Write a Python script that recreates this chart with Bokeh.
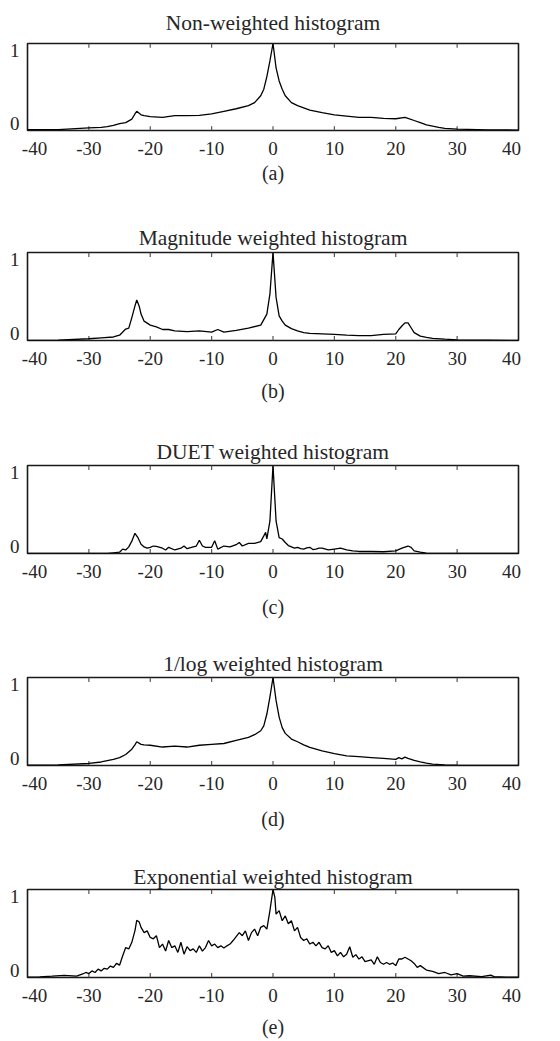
from bokeh.plotting import figure
from bokeh.layouts import column
from bokeh.models import LinearAxis, FixedTicker, Range1d
from bokeh.embed import file_html
from bokeh.resources import INLINE

# ---------------- data ----------------
titles = ["Non-weighted histogram", "Magnitude weighted histogram",
          "DUET weighted histogram", "1/log weighted histogram",
          "Exponential weighted histogram"]
captions = ["(a)", "(b)", "(c)", "(d)", "(e)"]

x_tick_values = [-30, -20, -10, 0, 10, 20, 30]
x_tick_labels = ["-40", "-30", "-20", "-10", "0", "10", "20", "30", "40"]
x_label_pos = [-38.86, -30, -20, -10, 0, 10, 20, 30, 38.86]
y_tick_labels = ["0", "1"]
y_label_pos = [0.085, 0.915]

xa = [-40, -35, -30, -28, -27, -26, -25, -24, -23, -22.5,
      -22.2, -21.5, -21, -20, -18, -16, -14, -12, -10, -8,
      -6, -4, -3, -2, -1.5, -1, -0.5, 0, 0.5, 1,
      1.5, 2, 3, 4, 5, 6, 8, 10, 12, 14,
      16, 18, 20, 21.5, 22, 23, 24, 25, 26, 27,
      28, 30, 35, 40]
ya = [0.01, 0.01, 0.03, 0.035, 0.045, 0.06, 0.08, 0.09, 0.13, 0.19,
      0.22, 0.18, 0.17, 0.16, 0.15, 0.17, 0.17, 0.175, 0.19, 0.22,
      0.25, 0.285, 0.32, 0.40, 0.475, 0.62, 0.80, 1.0, 0.72, 0.57,
      0.475, 0.40, 0.32, 0.285, 0.26, 0.235, 0.205, 0.18, 0.165, 0.15,
      0.15, 0.14, 0.135, 0.15, 0.14, 0.115, 0.09, 0.065, 0.05, 0.035,
      0.025, 0.015, 0.008, 0.005]

xb = [-40, -35, -30, -28, -26, -25, -24, -23.5, -23, -22.5,
      -22.2, -21.8, -21.5, -21, -20, -19, -18, -17, -16, -14,
      -12, -10, -9, -8, -6, -4, -2, -1, -0.5, 0,
      0.5, 1, 1.5, 2, 3, 4, 5, 6, 8, 10,
      12, 14, 16, 18, 20, 20.5, 21, 21.5, 22, 22.5,
      23, 24, 25, 26, 28, 30, 35, 40]
yb = [0, 0.005, 0.02, 0.03, 0.04, 0.06, 0.13, 0.14, 0.26, 0.39,
      0.46, 0.39, 0.30, 0.22, 0.175, 0.155, 0.125, 0.125, 0.11, 0.10,
      0.11, 0.095, 0.125, 0.095, 0.115, 0.14, 0.175, 0.30, 0.53, 1.0,
      0.49, 0.28, 0.22, 0.175, 0.135, 0.11, 0.09, 0.08, 0.075, 0.07,
      0.06, 0.055, 0.055, 0.07, 0.075, 0.125, 0.165, 0.20, 0.20, 0.145,
      0.09, 0.05, 0.035, 0.025, 0.015, 0.008, 0.004, 0]

xc = [-40, -27, -26, -25, -24.5, -24, -23.5, -23, -22.5, -22,
      -21.5, -21, -20.5, -20, -19.5, -19, -18, -17.5, -17, -16,
      -15, -14.5, -14, -13, -12.5, -12, -11.5, -11, -10, -9.5,
      -9, -8, -7, -6, -5.5, -5, -4, -3, -2, -1.5,
      -1.2, -1, -0.5, 0, 0.5, 1, 1.5, 2, 2.5, 3,
      3.5, 4, 4.5, 5, 5.5, 6, 6.5, 7, 7.5, 8,
      9, 10, 11, 12, 13, 14, 16, 18, 20, 21,
      22, 22.5, 23, 24, 25, 40]
yc = [0, 0, 0.008, 0.015, 0.05, 0.04, 0.075, 0.14, 0.23, 0.18,
      0.105, 0.075, 0.06, 0.07, 0.085, 0.08, 0.06, 0.04, 0.07, 0.04,
      0.06, 0.085, 0.055, 0.075, 0.085, 0.15, 0.085, 0.07, 0.07, 0.145,
      0.05, 0.085, 0.075, 0.10, 0.125, 0.085, 0.115, 0.115, 0.135, 0.20,
      0.24, 0.165, 0.37, 1.0, 0.37, 0.18, 0.165, 0.125, 0.09, 0.075,
      0.06, 0.07, 0.055, 0.05, 0.065, 0.07, 0.045, 0.05, 0.06, 0.06,
      0.04, 0.05, 0.06, 0.04, 0.03, 0.023, 0.023, 0.02, 0.03, 0.06,
      0.085, 0.07, 0.03, 0.015, 0.004, 0]

xd = [-40, -35, -30, -28, -26, -25, -24, -23, -22.5, -22.2,
      -21.5, -21, -20, -18, -16, -14, -12, -10, -8, -6,
      -4, -3, -2, -1.5, -1, -0.5, 0, 0.5, 1, 1.5,
      2, 3, 4, 5, 6, 8, 10, 12, 14, 16,
      18, 20, 20.5, 21, 21.5, 22, 23, 24, 25, 26,
      28, 30, 40]
yd = [0.004, 0.008, 0.023, 0.04, 0.07, 0.09, 0.125, 0.185, 0.235, 0.27,
      0.24, 0.235, 0.23, 0.21, 0.22, 0.21, 0.23, 0.24, 0.25, 0.285,
      0.32, 0.35, 0.395, 0.45, 0.585, 0.78, 1.0, 0.74, 0.55, 0.43,
      0.365, 0.30, 0.27, 0.235, 0.205, 0.165, 0.135, 0.11, 0.10, 0.09,
      0.08, 0.07, 0.09, 0.075, 0.095, 0.08, 0.057, 0.04, 0.027, 0.015,
      0.008, 0.004, 0]

xe = [-40, -38, -36, -34, -32, -31, -30.5, -30, -29.5, -29,
      -28.5, -28, -27.5, -27, -26.5, -26, -25.5, -25, -24.5, -24,
      -23.5, -23, -22.5, -22.2, -21.8, -21.5, -21, -20.5, -20, -19.5,
      -19, -18.5, -18, -17.5, -17, -16.5, -16, -15.5, -15, -14.5,
      -14, -13.5, -13, -12.5, -12, -11.5, -11, -10.5, -10, -9.5,
      -9, -8.5, -8, -7.5, -7, -6.5, -6, -5.5, -5, -4.5,
      -4, -3.5, -3, -2.5, -2, -1.5, -1, -0.5, 0, 0.3,
      0.5, 1, 1.5, 2, 2.5, 3, 3.5, 4, 4.5, 5,
      5.5, 6, 6.5, 7, 7.5, 8, 8.5, 9, 9.5, 10,
      10.5, 11, 11.5, 12, 12.5, 13, 13.5, 14, 14.5, 15,
      16, 16.5, 17, 17.5, 18, 18.5, 19, 19.5, 20, 20.5,
      21, 21.5, 22, 22.5, 23, 23.5, 24, 25, 26, 27,
      28, 29, 30, 31, 32, 34, 35.5, 36, 38, 40]
ye = [0.005, 0.008, 0.015, 0.023, 0.015, 0.04, 0.057, 0.045, 0.075, 0.057,
      0.095, 0.075, 0.105, 0.095, 0.13, 0.115, 0.16, 0.14, 0.245, 0.34,
      0.325, 0.40, 0.53, 0.65, 0.63, 0.57, 0.51, 0.53, 0.455, 0.44,
      0.475, 0.34, 0.38, 0.30, 0.42, 0.34, 0.36, 0.285, 0.40, 0.265,
      0.35, 0.305, 0.325, 0.285, 0.36, 0.30, 0.34, 0.42, 0.36, 0.38,
      0.34, 0.36, 0.335, 0.36, 0.38, 0.42, 0.465, 0.51, 0.475, 0.53,
      0.42, 0.51, 0.55, 0.475, 0.57, 0.59, 0.55, 0.76, 1.0, 0.91,
      0.72, 0.76, 0.645, 0.70, 0.61, 0.645, 0.53, 0.57, 0.455, 0.42,
      0.44, 0.38, 0.40, 0.36, 0.40, 0.34, 0.325, 0.36, 0.285, 0.305,
      0.245, 0.285, 0.235, 0.265, 0.35, 0.23, 0.26, 0.21, 0.235, 0.18,
      0.20, 0.15, 0.235, 0.17, 0.15, 0.17, 0.15, 0.165, 0.135, 0.21,
      0.21, 0.23, 0.21, 0.19, 0.16, 0.115, 0.135, 0.085, 0.07, 0.045,
      0.057, 0.03, 0.045, 0.015, 0.02, 0.01, 0.027, 0.01, 0.004, 0.003]

series = [(xa, ya), (xb, yb), (xc, yc), (xd, yd), (xe, ye)]

# ---------------- layout / style ----------------
FONT = "Liberation Serif"
TXT = "#262626"
W = 560
BORDER_TOP = 42
heights = [210, 213, 212, 212, 193]
borders_bottom = [80, 83, 82, 82, 63]
title_standoffs = [17, 5, 4, 4, 2]
cap_standoffs = [4, 12, 15, 15, 11]
TICK_LEN = 0.05   # inward tick length as fraction of y span


def make_panel(i):
    xs, ys = series[i]
    p = figure(width=W, height=heights[i], output_backend="svg",
               toolbar_location=None, x_axis_location=None, y_axis_location=None,
               x_range=Range1d(-40, 40), y_range=Range1d(0, 1.0),
               min_border_left=27, min_border_right=42,
               min_border_top=BORDER_TOP, min_border_bottom=borders_bottom[i])
    p.xgrid.visible = False
    p.ygrid.visible = False
    p.background_fill_color = "white"
    p.border_fill_color = "white"
    p.outline_line_color = "#1a1a1a"
    p.outline_line_width = 1.6

    p.title.text = titles[i]
    p.title.align = "center"
    p.title.text_font = FONT
    p.title.text_font_size = "21.5px"
    p.title.text_font_style = "normal"
    p.title.text_color = TXT
    p.title.standoff = title_standoffs[i]

    # inward tick marks at top and bottom edges
    n = len(x_tick_values)
    p.segment(x0=x_tick_values, y0=[1.0] * n, x1=x_tick_values, y1=[1.0 - TICK_LEN] * n,
              line_color="#555555", line_width=1.2)
    p.segment(x0=x_tick_values, y0=[0.0] * n, x1=x_tick_values, y1=[TICK_LEN] * n,
              line_color="#555555", line_width=1.2)

    # tick labels + caption
    xl = LinearAxis(ticker=FixedTicker(ticks=x_label_pos, minor_ticks=[]),
                    major_label_overrides={v: t for v, t in zip(x_label_pos, x_tick_labels)},
                    major_tick_line_color=None, major_tick_in=0, major_tick_out=0,
                    minor_tick_line_color=None, axis_line_color=None,
                    major_label_standoff=11,
                    major_label_text_font=FONT, major_label_text_font_size="19px",
                    major_label_text_color=TXT,
                    axis_label=captions[i], axis_label_standoff=cap_standoffs[i],
                    axis_label_text_font=FONT, axis_label_text_font_size="20px",
                    axis_label_text_font_style="normal", axis_label_text_color=TXT)
    p.add_layout(xl, "below")

    yl = LinearAxis(ticker=FixedTicker(ticks=y_label_pos, minor_ticks=[]),
                    major_label_overrides={v: t for v, t in zip(y_label_pos, y_tick_labels)},
                    major_tick_line_color=None, major_tick_in=0, major_tick_out=0,
                    minor_tick_line_color=None, axis_line_color=None,
                    major_label_standoff=8, major_label_orientation="horizontal",
                    major_label_text_font=FONT, major_label_text_font_size="19px",
                    major_label_text_color=TXT)
    p.add_layout(yl, "left")

    p.line(xs, ys, line_color="black", line_width=1.3)
    return p


panels = [make_panel(i) for i in range(5)]
layout = column(*panels, spacing=0)
open("out.html", "w").write(file_html(layout, INLINE))
